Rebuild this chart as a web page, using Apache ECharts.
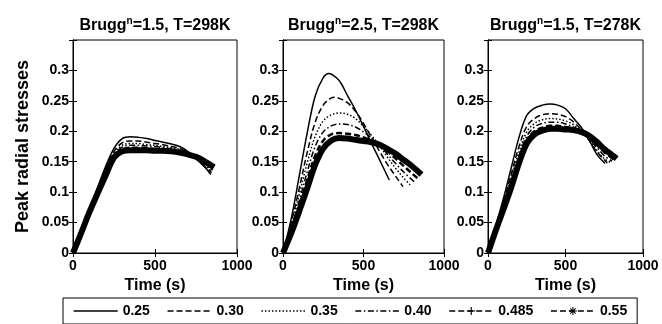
<!DOCTYPE html>
<html>
<head>
<meta charset="utf-8">
<script src="https://cdn.jsdelivr.net/npm/echarts@6/dist/echarts.min.js"></script>
<style>
html,body{margin:0;padding:0;background:#fff;}
#chart{width:662px;height:324px;}
</style>
</head>
<body>
<div id="chart"></div>
<script>
// ---- data (time in s, peak radial stress) ----
const seriesNames = ['0.25', '0.30', '0.35', '0.40', '0.485', '0.55'];
const panelTitles = [['Brugg', 'n', '=1.5, T=298K'], ['Brugg', 'n', '=2.5, T=298K'], ['Brugg', 'n', '=1.5, T=278K']];
const xTicks = [0, 500, 1000];
const yTickLabels = ['0', '0.05', '0.1', '0.15', '0.2', '0.25', '0.3'];

// Panel 1: Brugg 1.5, T=298K
const p1_025 = [[0,0],[50,0.036],[100,0.072],[150,0.108],[200,0.143],[250,0.172],[300,0.188],[350,0.191],[400,0.190],[450,0.188],[500,0.185],[550,0.182],[600,0.179],[650,0.175],[700,0.167],[750,0.155],[800,0.142],[840,0.129]];
const p1_030 = [[0,0],[50,0.035],[100,0.071],[150,0.105],[200,0.139],[250,0.167],[300,0.181],[350,0.184],[400,0.184],[450,0.182],[500,0.180],[550,0.178],[600,0.175],[650,0.172],[700,0.165],[750,0.155],[800,0.143],[845,0.132]];
const p1_035 = [[0,0],[50,0.035],[100,0.070],[150,0.103],[200,0.136],[250,0.163],[300,0.177],[350,0.180],[400,0.180],[450,0.178],[500,0.177],[550,0.175],[600,0.173],[650,0.170],[700,0.164],[750,0.155],[800,0.144],[850,0.134]];
const p1_040 = [[0,0],[50,0.034],[100,0.069],[150,0.102],[200,0.134],[250,0.161],[300,0.174],[350,0.177],[400,0.177],[450,0.176],[500,0.175],[550,0.173],[600,0.171],[650,0.169],[700,0.164],[750,0.156],[800,0.146],[850,0.136]];
const p1_0485 = [[0,0],[50,0.034],[100,0.068],[150,0.100],[200,0.131],[250,0.158],[300,0.170],[350,0.173],[400,0.173],[450,0.172],[500,0.171],[550,0.170],[600,0.169],[650,0.167],[700,0.163],[750,0.157],[800,0.148],[855,0.139]];
const p1_055 = [[0,0],[50,0.033],[100,0.067],[150,0.098],[200,0.128],[250,0.157],[300,0.167],[350,0.169],[400,0.169],[450,0.169],[500,0.168],[550,0.168],[600,0.167],[650,0.165],[700,0.162],[750,0.158],[800,0.151],[860,0.141]];

// Panel 2: Brugg 2.5, T=298K
const p2_025 = [[0,0],[50,0.055],[100,0.125],[150,0.197],[200,0.258],[250,0.288],[285,0.295],[300,0.294],[350,0.283],[400,0.259],[450,0.235],[500,0.208],[550,0.180],[600,0.153],[660,0.120]];
const p2_030 = [[0,0],[50,0.048],[100,0.105],[150,0.165],[200,0.215],[250,0.243],[300,0.255],[320,0.256],[350,0.254],[400,0.247],[450,0.233],[500,0.213],[550,0.190],[600,0.167],[650,0.145],[700,0.126],[745,0.109]];
const p2_035 = [[0,0],[50,0.044],[100,0.095],[150,0.148],[200,0.192],[250,0.217],[300,0.227],[350,0.230],[400,0.228],[450,0.221],[500,0.208],[550,0.193],[600,0.176],[650,0.157],[700,0.139],[750,0.123],[790,0.112]];
const p2_040 = [[0,0],[50,0.040],[100,0.085],[150,0.133],[200,0.175],[250,0.199],[300,0.209],[350,0.212],[400,0.211],[450,0.207],[500,0.199],[550,0.189],[600,0.177],[650,0.162],[700,0.147],[750,0.133],[815,0.117]];
const p2_0485 = [[0,0],[50,0.036],[100,0.076],[150,0.120],[200,0.160],[250,0.185],[300,0.195],[350,0.197],[400,0.196],[450,0.194],[500,0.190],[550,0.185],[600,0.178],[650,0.167],[700,0.155],[750,0.143],[800,0.131],[840,0.122]];
const p2_055 = [[0,0],[50,0.032],[100,0.068],[150,0.106],[200,0.145],[250,0.172],[300,0.185],[350,0.189],[400,0.188],[450,0.186],[500,0.184],[550,0.182],[600,0.178],[650,0.171],[700,0.163],[750,0.153],[800,0.143],[860,0.129]];

// Panel 3: Brugg 1.5, T=278K
const p3_025 = [[0,0],[50,0.045],[100,0.090],[150,0.140],[200,0.190],[250,0.226],[300,0.238],[350,0.243],[400,0.245],[450,0.243],[500,0.237],[550,0.222],[600,0.207],[650,0.187],[700,0.163],[756,0.147]];
const p3_030 = [[0,0],[50,0.043],[100,0.085],[150,0.130],[200,0.175],[250,0.208],[300,0.221],[350,0.227],[400,0.229],[450,0.228],[500,0.224],[550,0.216],[600,0.203],[650,0.186],[700,0.167],[770,0.148]];
const p3_035 = [[0,0],[50,0.041],[100,0.081],[150,0.124],[200,0.166],[250,0.199],[300,0.213],[350,0.219],[400,0.221],[450,0.220],[500,0.217],[550,0.211],[600,0.200],[650,0.186],[700,0.169],[750,0.155],[790,0.149]];
const p3_040 = [[0,0],[50,0.040],[100,0.078],[150,0.118],[200,0.159],[250,0.192],[300,0.207],[350,0.213],[400,0.215],[450,0.215],[500,0.212],[550,0.207],[600,0.199],[650,0.188],[700,0.174],[750,0.160],[800,0.151]];
const p3_0485 = [[0,0],[50,0.038],[100,0.075],[150,0.113],[200,0.153],[250,0.185],[300,0.200],[350,0.206],[400,0.209],[450,0.209],[500,0.207],[550,0.204],[600,0.199],[650,0.190],[700,0.178],[750,0.166],[815,0.153]];
const p3_055 = [[0,0],[50,0.037],[100,0.072],[150,0.108],[200,0.148],[250,0.180],[300,0.195],[350,0.201],[400,0.204],[450,0.204],[500,0.203],[550,0.202],[600,0.199],[650,0.193],[700,0.183],[750,0.171],[800,0.161],[830,0.155]];

const panels = [
  [p1_025, p1_030, p1_035, p1_040, p1_0485, p1_055],
  [p2_025, p2_030, p2_035, p2_040, p2_0485, p2_055],
  [p3_025, p3_030, p3_035, p3_040, p3_0485, p3_055]
];

// ---- styling ----
const FONT = '"Liberation Sans", Arial, Helvetica, sans-serif';
const grids = [
  {left: 73, top: 40, width: 164, height: 213},
  {left: 283, top: 40, width: 161, height: 213},
  {left: 488, top: 40, width: 155, height: 213}
];
const lineStyles = [
  {type: 'solid', width: 1.5},
  {type: [6, 3], width: 1.5},
  {type: [1.5, 2], width: 1.5},
  {type: [6, 2.5, 1.5, 2.5], width: 1.5},
  {type: [6, 3], width: 2.5},
  {type: 'solid', width: 6}
];
const plusPath = 'path://M4.3,0H5.7V4.3H10V5.7H5.7V10H4.3V5.7H0V4.3H4.3Z';
const starPath = 'path://M4.4,0H5.6V10H4.4Z M0,4.4H10V5.6H0Z M1.2,2.05L2.05,1.2L8.8,7.95L7.95,8.8Z M1.2,7.95L2.05,8.8L8.8,2.05L7.95,1.2Z';
const symbols = ['none', 'none', 'none', 'none', plusPath, starPath];

const xAxes = [], yAxes = [], series = [], graphics = [];
grids.forEach((g, i) => {
  const common = {
    gridIndex: i, type: 'value', min: 0, max: 1000, interval: 500,
    axisLine: {show: true, lineStyle: {color: '#000', width: 1}},
    splitLine: {show: false},
    axisTick: {show: true, inside: true, length: 4, lineStyle: {color: '#000'}}
  };
  xAxes.push(Object.assign({}, common, {
    position: 'bottom',
    name: 'Time (s)', nameLocation: 'middle', nameGap: 22,
    nameTextStyle: {fontFamily: FONT, fontWeight: 'bold', fontSize: 16, color: '#000'},
    axisLabel: {fontFamily: FONT, fontWeight: 'bold', fontSize: 14, color: '#000', margin: 6,
      formatter: v => (xTicks.indexOf(v) >= 0 ? String(v) : '')}
  }));
  xAxes.push(Object.assign({}, common, {position: 'top', axisLabel: {show: false}}));
  const ycommon = {
    gridIndex: i, type: 'value', min: 0, max: 0.35, interval: 0.05,
    axisLine: {show: true, lineStyle: {color: '#000', width: 1}},
    splitLine: {show: false},
    axisTick: {show: true, inside: true, length: 4, lineStyle: {color: '#000'}}
  };
  yAxes.push(Object.assign({}, ycommon, {
    position: 'left',
    name: i === 0 ? 'Peak radial stresses' : '', nameLocation: 'middle', nameGap: 41,
    nameTextStyle: {fontFamily: FONT, fontWeight: 'bold', fontSize: 18, color: '#000'},
    axisLabel: {fontFamily: FONT, fontWeight: 'bold', fontSize: 14, color: '#000', margin: 4,
      formatter: v => {
        const k = Math.round(v / 0.05);
        return k < yTickLabels.length ? yTickLabels[k] : '';
      }}
  }));
  yAxes.push(Object.assign({}, ycommon, {position: 'right', axisLabel: {show: false}}));

  // draw thick band first so thinner lines lie on top
  const order = [5, 0, 1, 2, 3, 4];
  order.forEach(k => {
    series.push({
      type: 'line', name: seriesNames[k],
      xAxisIndex: 2 * i, yAxisIndex: 2 * i,
      data: panels[i][k],
      smooth: 0.35,
      symbol: symbols[k], showSymbol: false,
      lineStyle: {color: '#000', type: lineStyles[k].type, width: lineStyles[k].width},
      itemStyle: {color: '#000'},
      z: k === 5 ? 2 : 3,
      silent: true, animation: false
    });
  });

  const t = panelTitles[i];
  graphics.push({
    type: 'text',
    x: g.left + g.width / 2, y: 25,
    style: {
      text: '{b|' + t[0] + '}{s|' + t[1] + '}{b|' + t[2] + '}',
      rich: {
        b: {fontFamily: FONT, fontWeight: 'bold', fontSize: 16, lineHeight: 18, verticalAlign: 'bottom', fill: '#000'},
        s: {fontFamily: FONT, fontWeight: 'bold', fontSize: 10, lineHeight: 10, verticalAlign: 'top', fill: '#000'}
      },
      align: 'center', verticalAlign: 'middle',
      textAlign: 'center', textVerticalAlign: 'middle'
    }
  });
});

const legendData = seriesNames.map((n, k) => ({
  name: n,
  lineStyle: {type: k === 5 ? [6, 3] : lineStyles[k].type, width: 1.3, color: '#000'},
  itemStyle: k >= 4 ? {color: '#000', opacity: 1} : {color: '#000', opacity: 0}
}));

const chart = echarts.init(document.getElementById('chart'), null, {renderer: 'canvas'});
chart.setOption({
  animation: false,
  backgroundColor: '#fff',
  grid: grids.map(g => Object.assign({show: true, borderColor: '#000', borderWidth: 1, backgroundColor: 'transparent'}, g)),
  xAxis: xAxes,
  yAxis: yAxes,
  series: series,
  graphic: graphics,
  legend: {
    data: legendData,
    left: 63, top: 298,
    orient: 'horizontal',
    itemWidth: 44, itemHeight: 10, itemGap: 17,
    padding: [6, 10, 6, 10],
    borderColor: '#000', borderWidth: 1,
    textStyle: {fontFamily: FONT, fontWeight: 'bold', fontSize: 14, color: '#000'},
    selectedMode: false
  }
});
</script>
</body>
</html>
